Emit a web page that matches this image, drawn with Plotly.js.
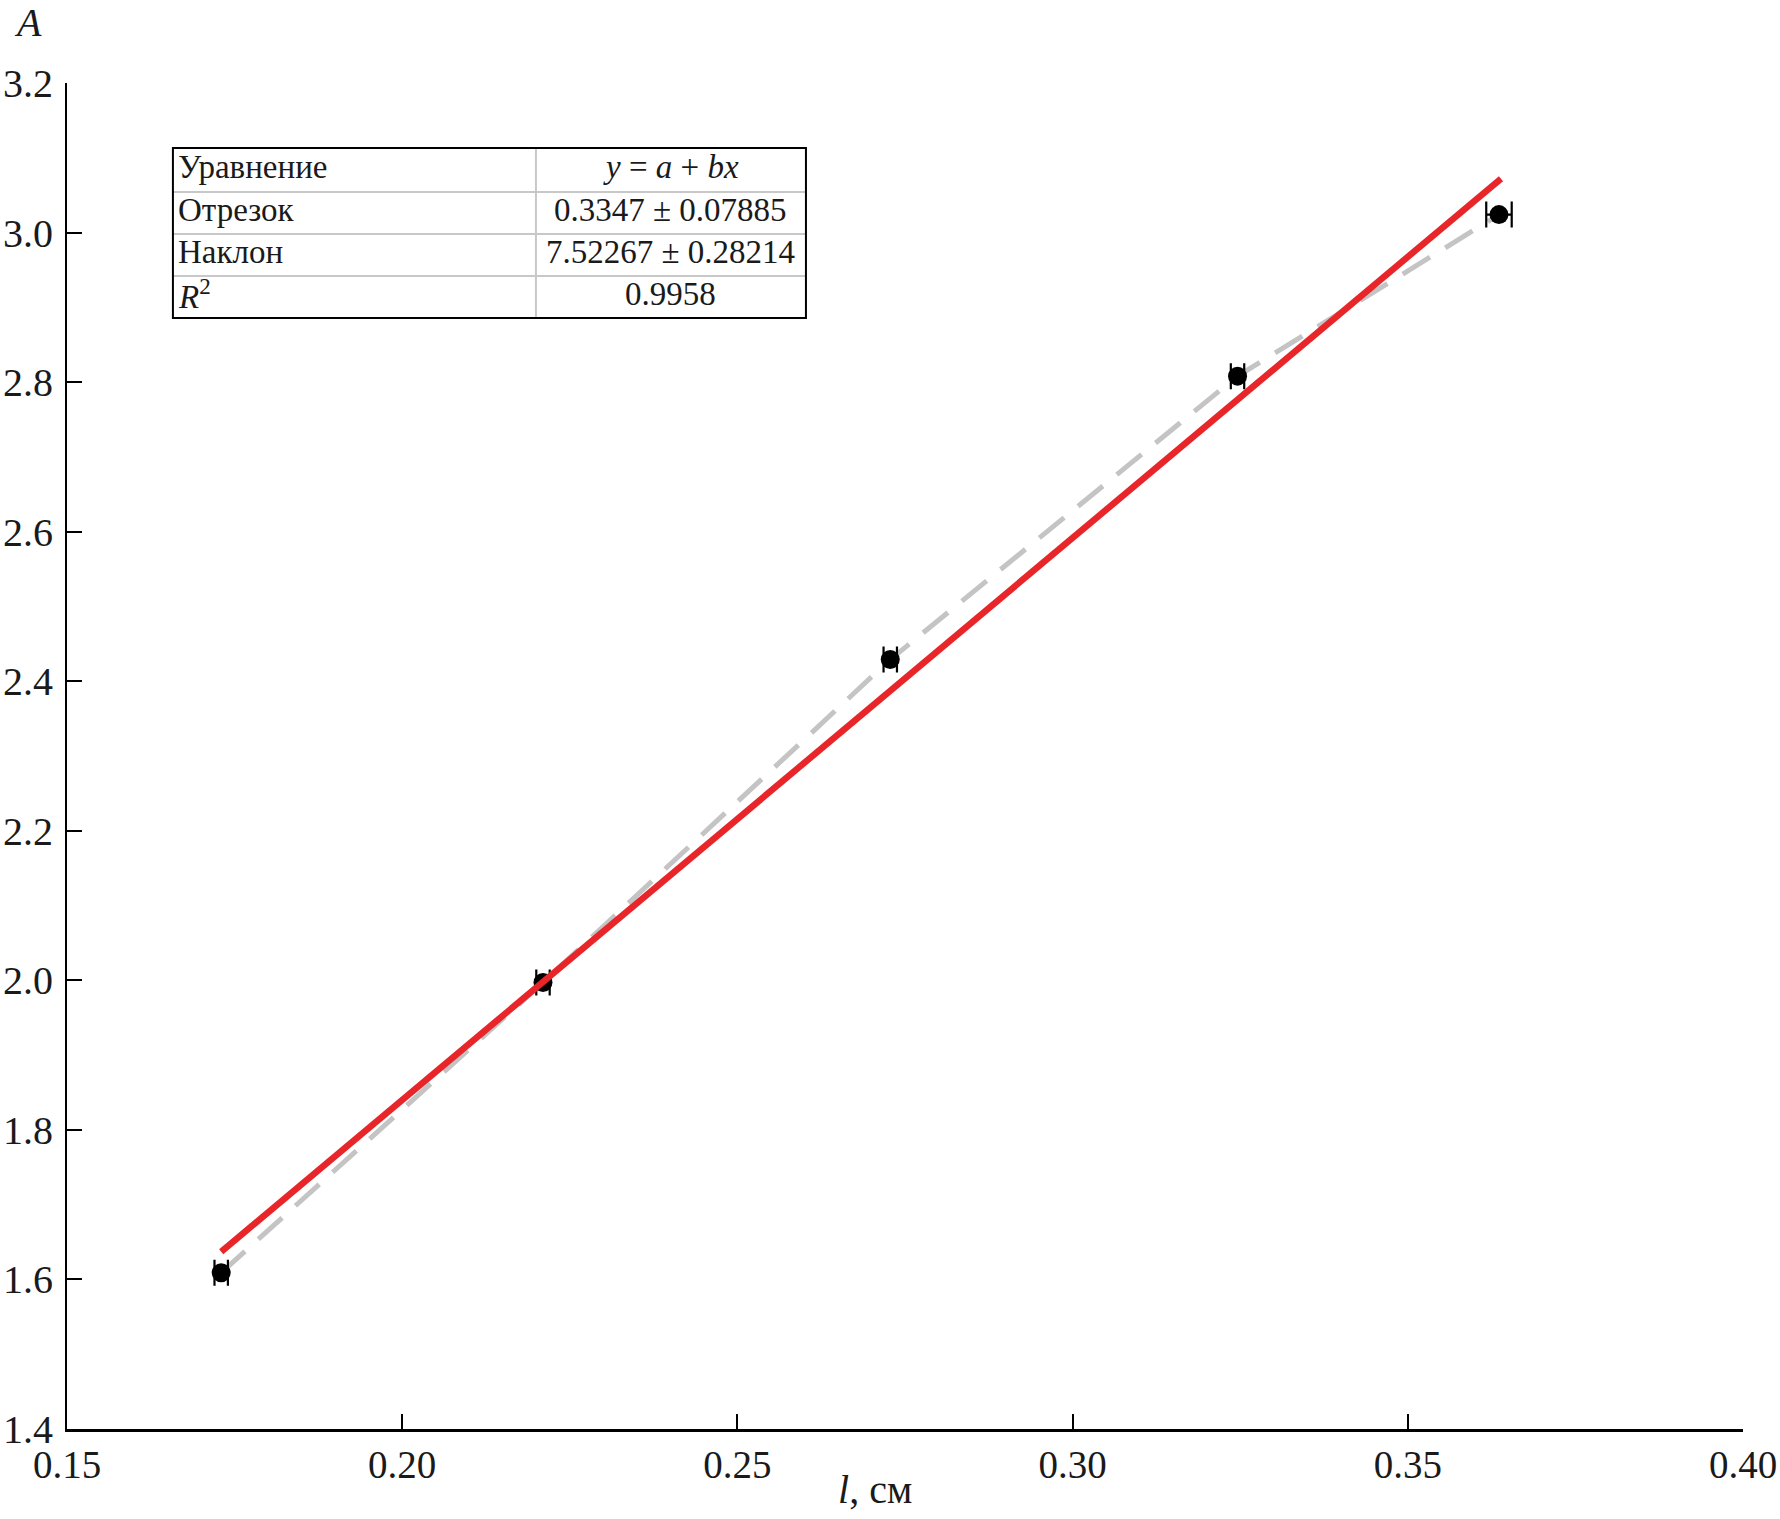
<!DOCTYPE html>
<html>
<head>
<meta charset="utf-8">
<script src="https://cdn.plot.ly/plotly-3.0.1.min.js"></script>
<style>
  html, body { margin: 0; padding: 0; background: #ffffff; }
  #chart { width: 1780px; height: 1519px; }
</style>
</head>
<body>
<div id="chart"></div>
<script>
// ---- data ----
const lValues = [0.1730, 0.2210, 0.2728, 0.3246, 0.3636];
const aValues = [1.609, 1.997, 2.429, 2.808, 3.024];
const lErrors = [0.0010, 0.0010, 0.0010, 0.0010, 0.0019];

const fitL = [0.1730, 0.3639];
const fitA = [1.637, 3.072];

const xTickValues = [0.15, 0.20, 0.25, 0.30, 0.35, 0.40];
const xTickLabels = ['0.15', '0.20', '0.25', '0.30', '0.35', '0.40'];
const yTickValues = [1.4, 1.6, 1.8, 2.0, 2.2, 2.4, 2.6, 2.8, 3.0, 3.2];
const yTickLabels = ['1.4', '1.6', '1.8', '2.0', '2.2', '2.4', '2.6', '2.8', '3.0', '3.2'];

const tableNames = ['Уравнение', 'Отрезок', 'Наклон', '<i>R</i><sup>2</sup>'];
const tableValues = ['<i>y</i> = <i>a</i> + <i>bx</i>', '0.3347 ± 0.07885', '7.52267 ± 0.28214', '0.9958'];

const xTitle = '<i>l</i>, см';
const yTitle = '<i>A</i>';

// ---- layout helpers ----
const FONT = 'Liberation Serif, Times New Roman, serif';
const TXT = '#1a1a1a';
const tbl = { left: 0.0632, mid: 0.2798, right: 0.4409, rows: [0.9517, 0.9190, 0.8878, 0.8566, 0.8254] };

const traces = [
  {
    x: lValues, y: aValues, type: 'scatter', mode: 'lines',
    line: { color: '#c4c4c4', width: 5, dash: '32px,18px' },
    showlegend: false
  },
  {
    x: lValues, y: aValues, type: 'scatter', mode: 'markers',
    marker: { color: '#000000', size: 19, line: { width: 0 } },
    error_x: { type: 'data', array: lErrors, visible: true, color: '#000000', thickness: 2.2, width: 13 },
    showlegend: false, hoverinfo: 'x+y'
  },
  {
    x: fitL, y: fitA, type: 'scatter', mode: 'lines',
    line: { color: '#e8262a', width: 6.5 },
    showlegend: false
  }
];

const shapes = [];
for (let i = 1; i < tbl.rows.length - 1; i++) {
  shapes.push({ type: 'line', xref: 'paper', yref: 'paper', x0: tbl.left, x1: tbl.right, y0: tbl.rows[i], y1: tbl.rows[i],
    line: { color: '#c8c8c8', width: 2 } });
}
shapes.push({ type: 'line', xref: 'paper', yref: 'paper', x0: tbl.mid, x1: tbl.mid, y0: tbl.rows[0], y1: tbl.rows[tbl.rows.length - 1],
  line: { color: '#c8c8c8', width: 2 } });
shapes.push({ type: 'rect', xref: 'paper', yref: 'paper', x0: tbl.left, x1: tbl.right, y0: tbl.rows[tbl.rows.length - 1], y1: tbl.rows[0],
  line: { color: '#000000', width: 2 }, fillcolor: 'rgba(0,0,0,0)' });

const annotations = [];
tableNames.forEach((t, i) => {
  const yc = (tbl.rows[i] + tbl.rows[i + 1]) / 2 + 0.002;
  annotations.push({ xref: 'paper', yref: 'paper', x: tbl.left + 0.002, y: yc, xanchor: 'left', yanchor: 'middle',
    text: t, showarrow: false, font: { family: FONT, size: 33, color: TXT } });
  annotations.push({ xref: 'paper', yref: 'paper', x: (tbl.mid + tbl.right) / 2, y: yc, xanchor: 'center', yanchor: 'middle',
    text: tableValues[i], showarrow: false, font: { family: FONT, size: 33, color: TXT } });
});
// axis titles
annotations.push({ xref: 'paper', yref: 'paper', x: -0.0233, y: 1.0446, xanchor: 'center', yanchor: 'middle',
  text: yTitle, showarrow: false, font: { family: FONT, size: 40, color: TXT } });
annotations.push({ xref: 'paper', yref: 'paper', x: 0.4821, y: -0.0453, xanchor: 'center', yanchor: 'middle',
  text: xTitle, showarrow: false, font: { family: FONT, size: 40, color: TXT } });

const layout = {
  width: 1780, height: 1519,
  margin: { l: 67, r: 37, t: 83, b: 90 },
  paper_bgcolor: '#ffffff', plot_bgcolor: '#ffffff',
  font: { family: FONT, size: 38, color: TXT },
  showlegend: false,
  xaxis: {
    range: [0.15, 0.40], tickmode: 'array', tickvals: xTickValues, ticktext: xTickLabels,
    ticks: 'inside', ticklen: 15, tickwidth: 2, tickcolor: '#000000',
    showline: true, linecolor: '#000000', linewidth: 2.5, showgrid: false, zeroline: false,
    tickfont: { family: FONT, size: 39, color: TXT },
    automargin: false
  },
  yaxis: {
    range: [1.4, 3.2], tickmode: 'array', tickvals: yTickValues, ticktext: yTickLabels,
    ticks: 'inside', ticklen: 15, tickwidth: 2, tickcolor: '#000000',
    showline: true, linecolor: '#000000', linewidth: 2, showgrid: false, zeroline: false,
    tickfont: { family: FONT, size: 40, color: TXT },
    ticklabelstandoff: 4,
    automargin: false
  },
  shapes: shapes,
  annotations: annotations
};

Plotly.newPlot('chart', traces, layout, { displayModeBar: false, staticPlot: true });
</script>
</body>
</html>
